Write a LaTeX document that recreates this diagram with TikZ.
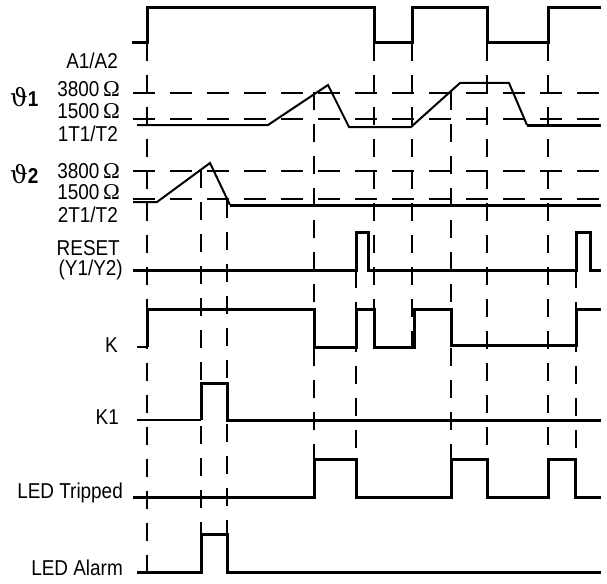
\documentclass[tikz,border=0pt]{standalone}
\usepackage{fontspec}
\setmainfont[FakeStretch=0.88]{Liberation Sans}
\newfontfamily\ohmfont[Scale=1.05]{Liberation Serif}
\newfontfamily\thetafont[Scale=1.15]{DejaVu Serif}
\begin{document}
\begin{tikzpicture}[
  x=1pt, y=-1pt,
  lbl/.style={anchor=east, inner sep=0pt, font=\fontsize{21.5}{23}\selectfont},
  sig/.style={line width=3pt, line join=miter},
  thinsig/.style={line width=1.5pt},
  ramp/.style={line width=2pt, line join=miter},
  vdash/.style={line width=2pt, dash pattern=on 18pt off 14pt},
  hdash/.style={line width=2pt, dash pattern=on 22pt off 15pt}
]
\useasboundingbox (0,0) rectangle (607,583);

% labels
\node[lbl] (a1a2) at (118,61) {A1/A2};
\node[lbl] (th1hi) at (120,89) {3800\,{\ohmfont Ω}};
\node[lbl] (th1lo) at (120,111) {1500\,{\ohmfont Ω}};
\node[lbl] (th1t) at (118,134) {1T1/T2};
\node[lbl, anchor=west] (th1) at (10,97) {{\thetafont ϑ}\textbf{1}};
\node[lbl] (th2hi) at (120,171) {3800\,{\ohmfont Ω}};
\node[lbl] (th2lo) at (120,192) {1500\,{\ohmfont Ω}};
\node[lbl] (th2t) at (118,215) {2T1/T2};
\node[lbl, anchor=west] (th2) at (10,174) {{\thetafont ϑ}\textbf{2}};
\node[lbl] (reset) at (120,248) {RESET};
\node[lbl] (y1y2) at (123,270) {(Y1/Y2)};
\node[lbl] (k) at (118,345) {K};
\node[lbl] (k1) at (119,417) {K1};
\node[lbl] (ledt) at (123,493) {LED Tripped};
\node[lbl] (leda) at (123,568) {LED Alarm};

% threshold lines
\foreach \y in {92.7,119,171,199}
  \draw[hdash] (133,\y) -- (601,\y);

% time markers
\foreach \t/\a/\b in {147/43/583, 201/170/534, 227/200/572, 314/92/459,
                      356/270/459, 374/43/347, 412/43/347, 451/92/459,
                      487/43/459, 548/43/459, 576/270/459}
  \draw[vdash] (\t,\a) -- (\t,\b);

% A1/A2
\draw[sig] (132,43) -- (147,43) -- (147,8) -- (374,8) -- (374,43) -- (412,43)
  -- (412,8) -- (487,8) -- (487,43) -- (548,43) -- (548,8) -- (601,8);

% theta 1
\draw[ramp] (137,125) -- (268,125) -- (328,85) -- (349,127) -- (411,127)
  -- (460,83) -- (509,83) -- (527,125);
\draw[sig] (527,125) -- (601,125);

% theta 2
\draw[ramp] (133,202) -- (157,202) -- (210,163) -- (230,205);
\draw[sig] (230,205) -- (601,205);

% RESET
\draw[sig] (133,270) -- (356,270) -- (356,232) -- (368,232) -- (368,270)
  -- (576,270) -- (576,232) -- (590,232) -- (590,270) -- (601,270);

% K
\draw[thinsig] (137,347) -- (147,347);
\draw[sig] (147,347) -- (147,309) -- (314,309) -- (314,347) -- (356,347)
  -- (356,309) -- (374,309) -- (374,347) -- (414,347) -- (414,309)
  -- (451,309) -- (451,345) -- (576,345) -- (576,309) -- (601,309);

% K1
\draw[thinsig] (137,420) -- (201,420);
\draw[sig] (201,420) -- (201,383) -- (227,383) -- (227,420) -- (601,420);

% LED Tripped
\draw[sig] (133,497) -- (314,497) -- (314,459) -- (356,459) -- (356,497)
  -- (451,497) -- (451,459) -- (487,459) -- (487,497) -- (548,497)
  -- (548,459) -- (575,459) -- (575,497) -- (601,497);

% LED Alarm
\draw[sig] (137,572) -- (201,572) -- (201,534) -- (227,534) -- (227,572)
  -- (601,572);
\end{tikzpicture}
\end{document}
